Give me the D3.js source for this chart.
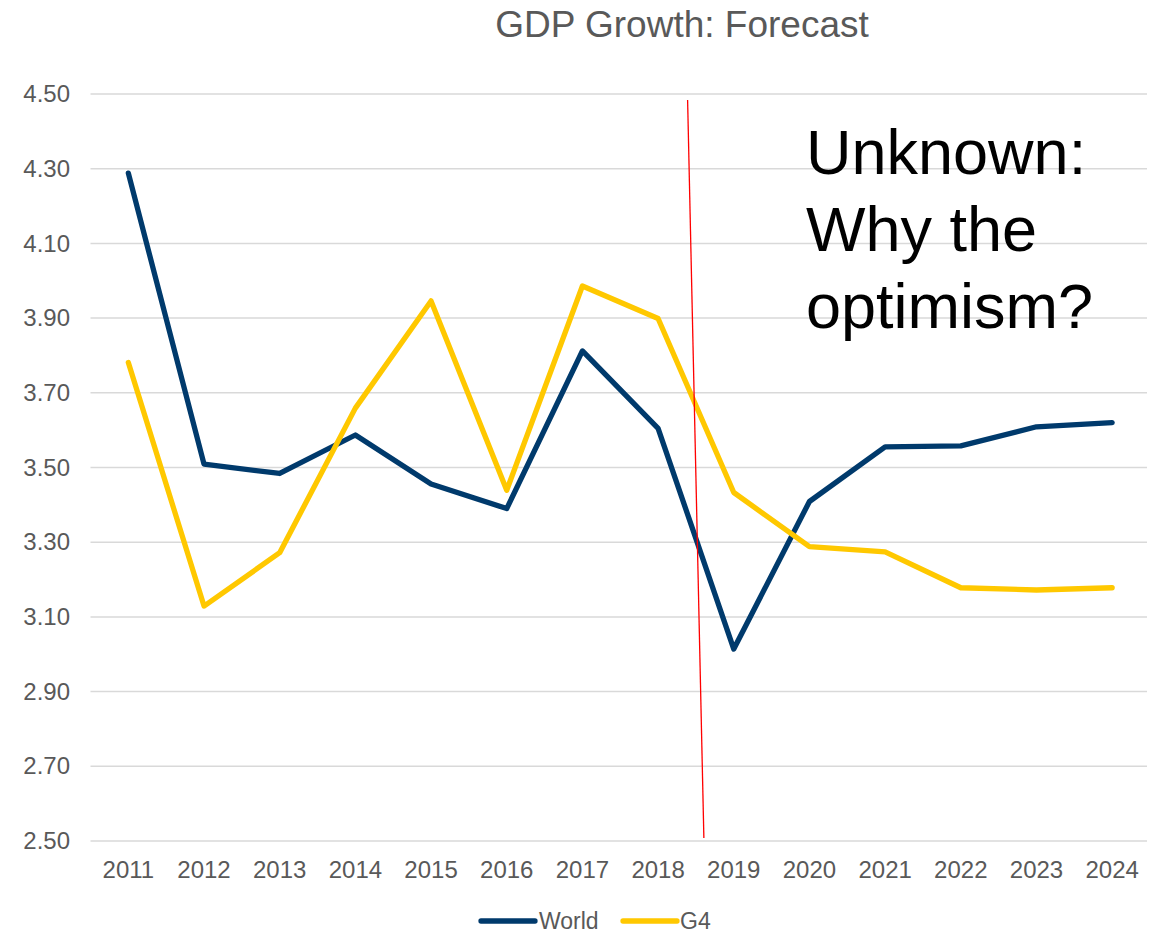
<!DOCTYPE html>
<html>
<head>
<meta charset="utf-8">
<script src="https://cdn.jsdelivr.net/npm/d3@7"></script>
<style>
  html, body { margin: 0; padding: 0; background: #ffffff; }
  svg { display: block; font-family: "Liberation Sans", Arial, sans-serif; }
</style>
</head>
<body>
<svg id="chart" width="1164" height="933"></svg>
<script>
// Years on the category axis
const years = [2011, 2012, 2013, 2014, 2015, 2016, 2017, 2018, 2019, 2020, 2021, 2022, 2023, 2024];

// GDP growth (%) per series
const worldValues = [4.288, 3.509, 3.484, 3.587, 3.456, 3.390, 3.812, 3.605, 3.014, 3.409, 3.555, 3.558, 3.609, 3.620];
const g4Values    = [3.781, 3.129, 3.272, 3.659, 3.946, 3.439, 3.986, 3.899, 3.433, 3.288, 3.274, 3.178, 3.172, 3.178];

// Y axis ticks
const yTicks = [2.50, 2.70, 2.90, 3.10, 3.30, 3.50, 3.70, 3.90, 4.10, 4.30, 4.50];

// Hand-drawn forecast cutoff marker (fractional year, value) at both ends
const cutoffYears  = [2018.39, 2018.605];
const cutoffValues = [4.484, 2.508];

const seriesList = [
  { name: "World", values: worldValues, color: "#003A6C" },
  { name: "G4",    values: g4Values,    color: "#FFC800" }
];

const titleText = "GDP Growth: Forecast";
const noteLines = ["Unknown:", "Why the", "optimism?"];

const svg = d3.select("#chart");

const plotLeft = 90.5, plotRight = 1150, plotTop = 94, plotBottom = 841;

const x = d3.scaleBand()
  .domain(years)
  .range([plotLeft, plotRight])
  .paddingInner(0)
  .paddingOuter(0);

const xCenter = yr => x(yr) + x.bandwidth() / 2;
// continuous year position for the cutoff marker
const xYear = d3.scaleLinear()
  .domain([years[0], years[years.length - 1]])
  .range([xCenter(years[0]), xCenter(years[years.length - 1])]);

const y = d3.scaleLinear()
  .domain([2.5, 4.5])
  .range([plotBottom, plotTop]);

// Horizontal gridlines
svg.append("g")
  .selectAll("line")
  .data(yTicks)
  .join("line")
  .attr("x1", plotLeft)
  .attr("x2", plotRight - 3)
  .attr("y1", d => y(d))
  .attr("y2", d => y(d))
  .attr("stroke", "#D9D9D9")
  .attr("stroke-width", 1.5);

// Y axis labels
const yAxis = d3.axisLeft(y)
  .tickValues(yTicks)
  .tickFormat(d3.format(".2f"))
  .tickSize(0)
  .tickPadding(0);

svg.append("g")
  .attr("transform", "translate(70,0)")
  .call(yAxis)
  .call(g => g.select(".domain").remove())
  .selectAll("text")
  .attr("font-size", 24)
  .attr("font-family", "Liberation Sans, Arial, sans-serif")
  .attr("fill", "#595959");

// X axis labels
const xAxis = d3.axisBottom(x).tickSize(0).tickPadding(0);
svg.append("g")
  .attr("transform", `translate(0,${plotBottom})`)
  .call(xAxis)
  .call(g => g.select(".domain").remove())
  .selectAll("text")
  .attr("dy", null)
  .attr("y", 37)
  .attr("font-size", 24)
  .attr("font-family", "Liberation Sans, Arial, sans-serif")
  .attr("fill", "#595959");

// Series lines
const line = d3.line()
  .x((d, i) => xCenter(years[i]))
  .y(d => y(d));

svg.append("g")
  .selectAll("path")
  .data(seriesList)
  .join("path")
  .attr("d", d => line(d.values))
  .attr("fill", "none")
  .attr("stroke", d => d.color)
  .attr("stroke-width", 5.3)
  .attr("stroke-linejoin", "round")
  .attr("stroke-linecap", "round");

// Forecast cutoff marker
svg.append("line")
  .attr("x1", xYear(cutoffYears[0]))
  .attr("y1", y(cutoffValues[0]))
  .attr("x2", xYear(cutoffYears[1]))
  .attr("y2", y(cutoffValues[1]))
  .attr("stroke", "#FF0000")
  .attr("stroke-width", 1.3);

// Title
svg.append("text")
  .attr("x", 682)
  .attr("y", 37)
  .attr("text-anchor", "middle")
  .attr("font-size", 37)
  .attr("fill", "#595959")
  .text(titleText);

// Annotation
svg.append("g")
  .selectAll("text")
  .data(noteLines)
  .join("text")
  .attr("x", 806)
  .attr("y", (d, i) => 174 + i * 77)
  .attr("font-size", 63)
  .attr("fill", "#000000")
  .text(d => d);

// Legend
const legend = svg.append("g").attr("transform", "translate(0,921)");
const legendItems = [
  { s: seriesList[0], x0: 481, x1: 535, tx: 539 },
  { s: seriesList[1], x0: 623, x1: 677, tx: 680 }
];
legendItems.forEach(it => {
  legend.append("line")
    .attr("x1", it.x0).attr("x2", it.x1)
    .attr("y1", 0).attr("y2", 0)
    .attr("stroke", it.s.color)
    .attr("stroke-width", 5.3)
    .attr("stroke-linecap", "round");
  legend.append("text")
    .attr("x", it.tx)
    .attr("y", 8)
    .attr("font-size", 23)
    .attr("fill", "#595959")
    .text(it.s.name);
});
</script>
</body>
</html>
